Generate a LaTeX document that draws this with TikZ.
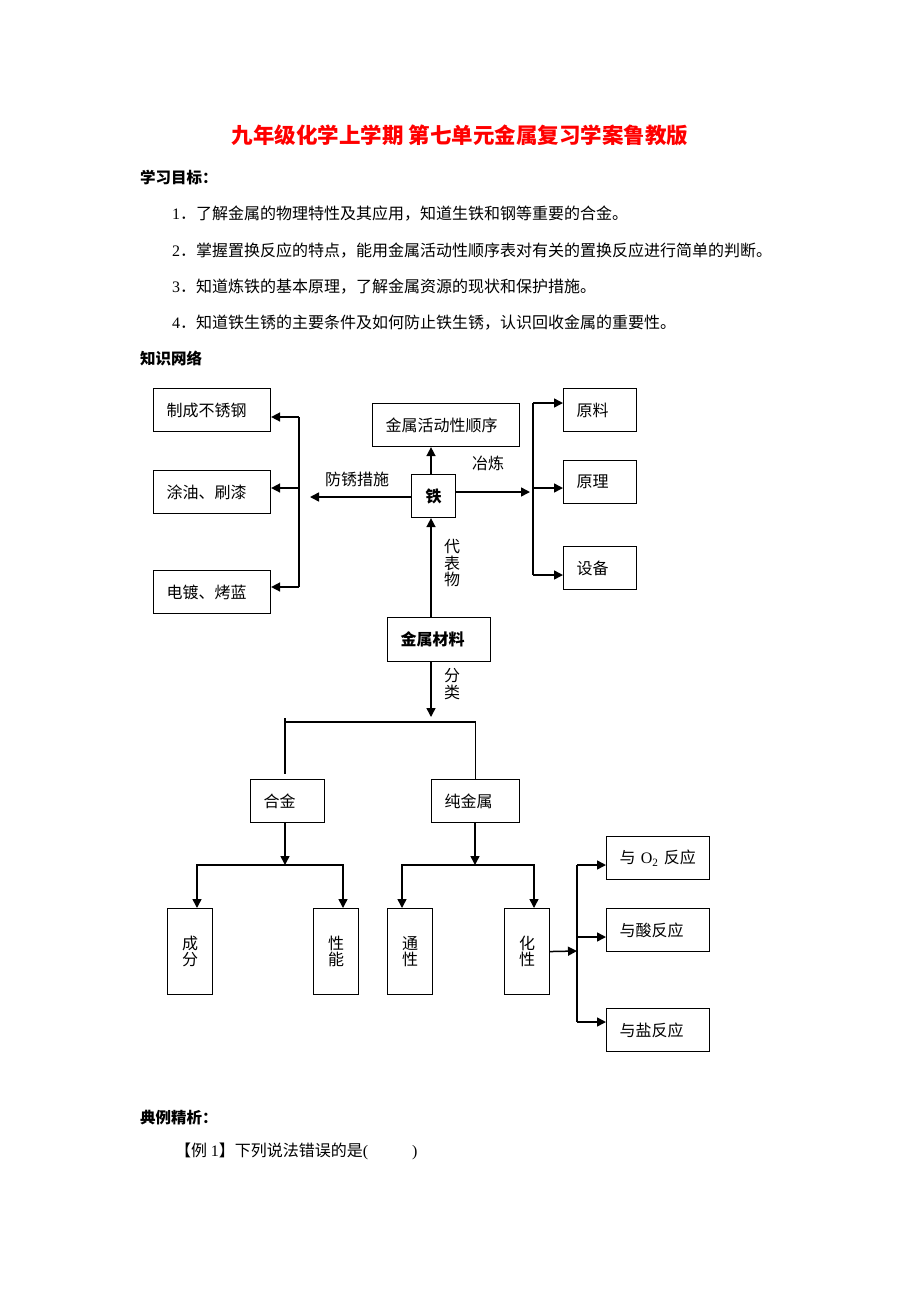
\documentclass[tikz,border=0pt]{standalone}
\usepackage{fontspec}
\newfontfamily\cjk{Noto Sans CJK SC}
\newfontfamily\lat{Liberation Serif}
\usetikzlibrary{arrows.meta}

\begin{document}
\begin{tikzpicture}[x=1pt, y=-1pt,
    every node/.style={font=\cjk\fontsize{16}{16.5}\selectfont, inner sep=0pt},
    box/.style={draw, line width=1.1pt, anchor=north west, inner xsep=13pt,
      minimum height=43pt, align=left},
    tallbox/.style={draw, line width=1.1pt, anchor=north west,
      minimum width=45pt, minimum height=86pt, align=center},
    arr/.style={line width=1.5pt, -{Triangle[length=9pt,width=9pt]}},
    ln/.style={line width=1.5pt}]
  \useasboundingbox (0,0) rectangle (920,1302);

  % heading and aims
  \node[font=\cjk\bfseries\fontsize{21.5}{24}\selectfont, text=red] (title)
    at (460,135) {九年级化学上学期 第七单元金属复习学案鲁教版};
  \node[anchor=west, font=\cjk\bfseries\fontsize{15.5}{16}\selectfont] (aims)
    at (140,178) {学习目标：};
  \foreach \i/\t in {1/了解金属的物理特性及其应用，知道生铁和钢等重要的合金。,
    2/掌握置换反应的特点，能用金属活动性顺序表对有关的置换反应进行简单的判断。,
    3/知道炼铁的基本原理，了解金属资源的现状和保护措施。,
    4/知道铁生锈的主要条件及如何防止铁生锈，认识回收金属的重要性。}
    \node[anchor=west] (obj\i) at (172,177.7+36.3*\i) {{\lat\i}．\t};
  \node[anchor=west, font=\cjk\bfseries\fontsize{15.5}{16}\selectfont] (net)
    at (140,358) {知识网络};

  % upper part
  \node[box, text width=91pt] (zcbx) at (153,388) {制成不锈钢};
  \node[box, text width=91pt] (tybx) at (153,470) {涂油、刷漆};
  \node[box, text width=91pt] (ddbx) at (153,570) {电镀、烤蓝};
  \node[box, text width=121pt] (hdx) at (372,403) {金属活动性顺序};
  \node[box, text width=18pt, align=center, font=\cjk\bfseries\fontsize{16}{16.5}\selectfont]
    (tie) at (411,474) {铁};
  \node[box, text width=47pt] (yl) at (563,388) {原料};
  \node[box, text width=47pt] (ylb) at (563,460) {原理};
  \node[box, text width=47pt] (sb) at (563,546) {设备};
  \node[box, text width=77pt, minimum height=44pt,
    font=\cjk\bfseries\fontsize{16}{16.5}\selectfont] (jscl) at (387,617) {金属材料};

  \coordinate (fxend) at (310,497);
  \draw[arr] (tie.west |- fxend) -- (fxend);
  \node (fxcs) at (357,479) {防锈措施};
  \coordinate (lb1) at (299,417);
  \coordinate (lb2) at (299,488);
  \coordinate (lb3) at (299,587);
  \draw[ln] (lb1) -- (lb3);
  \foreach \n/\c in {zcbx/lb1, tybx/lb2, ddbx/lb3}
    \draw[arr] (\c) -- (\n.east |- \c);

  \coordinate (yend) at (530,492);
  \draw[arr] (tie.east |- yend) -- (yend);
  \node (yel) at (488,463) {冶炼};
  \coordinate (rb1) at (533,403);
  \coordinate (rb2) at (533,488);
  \coordinate (rb3) at (533,575);
  \draw[ln] (rb1) -- (rb3);
  \foreach \n/\c in {yl/rb1, ylb/rb2, sb/rb3}
    \draw[arr] (\c) -- (\n.west |- \c);

  \coordinate (tiex) at (431,0);
  \draw[arr] (tie.north -| tiex) -- (hdx.south -| tiex);
  \draw[arr] (jscl.north -| tiex) -- (tie.south -| tiex);
  \node[align=center] (dbw) at (452,563) {代\\表\\物};

  % lower part
  \node[box, text width=48pt] (hj) at (250,779) {合金};
  \node[box, text width=62pt] (cjs) at (431,779) {纯金属};
  \node[tallbox] (cf) at (167,908) {成\\分};
  \node[tallbox] (xn) at (313,908) {性\\能};
  \node[tallbox] (tx) at (387,908) {通\\性};
  \node[tallbox] (hx) at (504,908) {化\\性};
  \node[box, text width=77pt] (fy1) at (606,836) {与 {\lat O\textsubscript{2}} 反应};
  \node[box, text width=77pt] (fy2) at (606,908) {与酸反应};
  \node[box, text width=77pt] (fy3) at (606,1008) {与盐反应};

  \coordinate (flend) at (431,717);
  \draw[arr] (jscl.south -| flend) -- (flend);
  \node[align=center] (fl) at (452,684) {分\\类};
  \coordinate (br1) at (285,718);
  \coordinate (br2) at (285,774);
  \coordinate (brj) at (285,722);
  \draw[ln] (br1) -- (br2);
  \draw[ln] (brj) -| (cjs.north);

  \coordinate (hjm) at (285,865);
  \coordinate (cjm) at (475,865);
  \draw[arr] (hj.south -| hjm) -- (hjm);
  \draw[arr] (cjs.south -| cjm) -- (cjm);
  \coordinate (cfa) at (197,865);
  \coordinate (xna) at (343,865);
  \coordinate (txa) at (402,865);
  \coordinate (hxa) at (534,865);
  \draw[arr] (hjm) -| (cf.north -| cfa);
  \draw[arr] (hjm) -| (xn.north -| xna);
  \draw[arr] (cjm) -| (tx.north -| txa);
  \draw[arr] (cjm) -| (hx.north -| hxa);

  \coordinate (hxj) at (577,951);
  \draw[arr] (hx.east) -- (hxj);
  \coordinate (rc1) at (577,865);
  \coordinate (rc2) at (577,937);
  \coordinate (rc3) at (577,1022);
  \draw[ln] (rc1) -- (rc3);
  \foreach \n/\c in {fy1/rc1, fy2/rc2, fy3/rc3}
    \draw[arr] (\c) -- (\n.west |- \c);

  % example
  \node[anchor=west, font=\cjk\bfseries\fontsize{15.5}{16}\selectfont] (dljx)
    at (140,1118) {典例精析：};
  \node[anchor=west] (ex1)
    at (175,1151) {【例 {\lat 1}】下列说法错误的是{\lat (}\hspace{44pt}{\lat )}};
\end{tikzpicture}
\end{document}
